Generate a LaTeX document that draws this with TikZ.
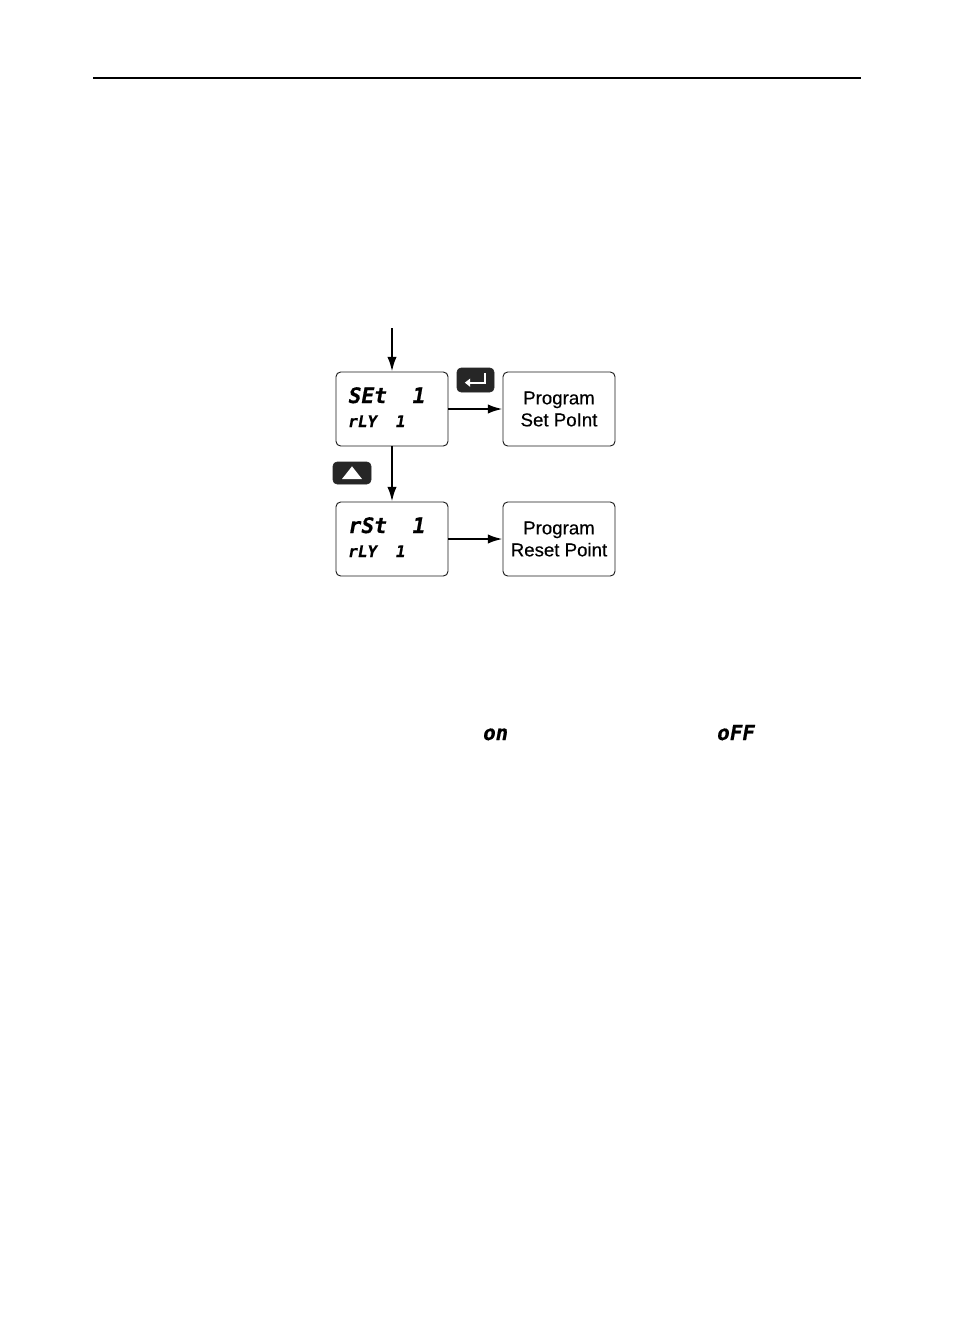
\documentclass[tikz,border=0pt]{standalone}
\usepackage{fontspec}
\setmainfont{Liberation Sans}
\newfontfamily\progfont{Liberation Sans}[FakeBold=0.35]
\newfontfamily\lcdfont{DejaVu Sans Mono}[UprightFont=* Bold,FakeSlant=0.18,FakeBold=0.6]
\usetikzlibrary{arrows.meta,positioning}

\tikzset{
  disp/.style={draw=black!90,line width=0.7pt,rounded corners=3.5pt,minimum width=84pt,minimum height=55.5pt,inner sep=0pt},
  progbox/.style={disp,align=center,font=\progfont\fontsize{14}{16.5}\selectfont},
  keybox/.style={fill=black!85,draw=black!85,rounded corners=3pt,inner sep=0pt},
  bigseg/.style={anchor=base west,inner sep=0pt,font=\lcdfont\fontsize{16}{16}\selectfont},
  smallseg/.style={anchor=base west,inner sep=0pt,font=\lcdfont\fontsize{12}{12}\selectfont},
  flow/.style={line width=1.5pt,-{Latex[length=11pt,width=7pt]}}
}

\begin{document}
\begin{tikzpicture}[x=0.75pt,y=-0.75pt]
  \useasboundingbox (0,0) rectangle (954,1336);
  \draw[line width=0.8pt] (93,78) -- (861,78);

  % menu boxes
  \coordinate (entry) at (392,328);
  \node[disp] (set) at (392,409) {};
  \node[disp] (rst) at (392,539) {};
  \node[progbox] (progset) at (559,409) {Program\\Set PoInt};
  \node[progbox] (progrst) at (559,539) {Program\\Reset Point};

  % display texts
  \node[bigseg] (setA) at (347,403) {SEt\hspace{19pt}1};
  \node[smallseg] (setB) at (347,427) {rLY\hspace{14pt}1};
  \node[bigseg] (rstA) at (347,533) {rSt\hspace{19pt}1};
  \node[smallseg] (rstB) at (347,557) {rLY\hspace{14pt}1};

  % keys
  \node[keybox,minimum width=27.75pt,minimum height=18pt] (enter) at (475.5,380) {};
  \node[keybox,minimum width=28.5pt,minimum height=16.5pt] (up) at (352,473) {};
  \draw[white,line width=1.3pt,-{Triangle[length=4pt,width=6pt]}]
    ([xshift=7pt,yshift=5pt]enter.center) |- ([xshift=-8pt,yshift=-2pt]enter.center);
  \fill[white] ([xshift=-7.5pt,yshift=-4.5pt]up.center) -- ([xshift=7.5pt,yshift=-4.5pt]up.center)
    -- ([yshift=5pt]up.center) -- cycle;

  % connectors
  \draw[flow] (entry) -- (set);
  \draw[flow] (set) -- (rst);
  \draw[flow] (set) -- (progset);
  \draw[flow] (rst) -- (progrst);

  \node[smallseg,font=\lcdfont\fontsize{15.5}{15.5}\selectfont] (on) at (482,740) {on};
  \node[smallseg,font=\lcdfont\fontsize{15.5}{15.5}\selectfont] (off) at (716,740) {oFF};
\end{tikzpicture}
\end{document}
